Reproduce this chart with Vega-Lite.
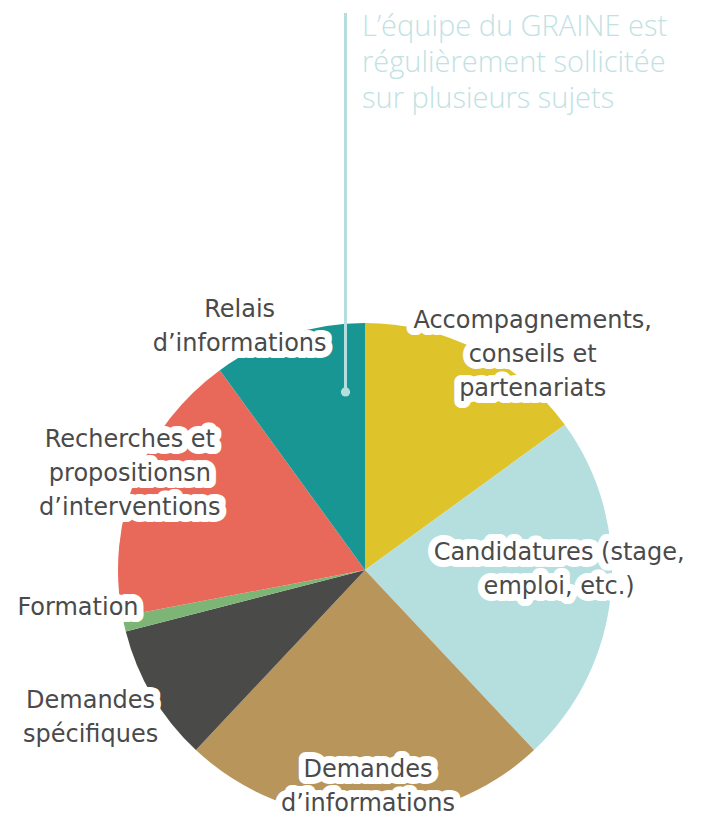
{
  "$schema": "https://vega.github.io/schema/vega-lite/v6.json",
  "width": 496,
  "height": 488,
  "autosize": {"type": "none"},
  "padding": {"left": 117, "top": 326, "right": 93, "bottom": 0},
  "background": "white",
  "config": {"view": {"stroke": null}},
  "data": {
    "values": [
      {"label": "Accompagnements,\nconseils et\npartenariats", "value": 15},
      {"label": "Candidatures (stage,\nemploi, etc.)", "value": 23},
      {"label": "Demandes\nd’informations", "value": 24},
      {"label": "Demandes\nspécifiques", "value": 9},
      {"label": "Formation", "value": 1},
      {"label": "Recherches et\npropositionsn\nd’interventions", "value": 18},
      {"label": "Relais\nd’informations", "value": 10}
    ]
  },
  "layer": [
    {
      "mark": {"type": "arc", "outerRadius": 247},
      "encoding": {
        "theta": {"field": "value", "type": "quantitative", "stack": true},
        "color": {
          "field": "label",
          "type": "nominal",
          "legend": null,
          "scale": {
            "domain": [
              "Accompagnements,\nconseils et\npartenariats",
              "Candidatures (stage,\nemploi, etc.)",
              "Demandes\nd’informations",
              "Demandes\nspécifiques",
              "Formation",
              "Recherches et\npropositionsn\nd’interventions",
              "Relais\nd’informations"
            ],
            "range": ["#DFC32A", "#B5DEDF", "#B8955A", "#4A4A49", "#7CB576", "#E8695A", "#179694"]
          }
        }
      }
    },
    {
      "data": {"values": [{"note": "callout"}]},
      "mark": {"type": "rule", "color": "#B5DEDF", "strokeWidth": 3},
      "encoding": {
        "x": {"datum": -0.0786, "type": "quantitative", "scale": {"domain": [-1, 1]}, "axis": null},
        "y": {"datum": 2.246, "type": "quantitative", "scale": {"domain": [-0.984, 0.984]}, "axis": null},
        "y2": {"datum": 0.718}
      }
    },
    {
      "data": {"values": [{"note": "callout"}]},
      "mark": {"type": "circle", "color": "#B5DEDF", "opacity": 1, "size": 85},
      "encoding": {
        "x": {"datum": -0.0786, "type": "quantitative", "scale": {"domain": [-1, 1]}, "axis": null},
        "y": {"datum": 0.718, "type": "quantitative", "scale": {"domain": [-0.984, 0.984]}, "axis": null}
      }
    },
    {
      "data": {"values": [{"note": "L’équipe du GRAINE est\nrégulièrement sollicitée\nsur plusieurs sujets"}]},
      "mark": {"type": "text", "font": "Open Sans", "fontWeight": 300, "fontSize": 29, "color": "#BFE2E3", "align": "left", "baseline": "alphabetic", "lineBreak": "\n", "lineHeight": 36},
      "encoding": {
        "x": {"datum": -0.012, "type": "quantitative", "scale": {"domain": [-1, 1]}, "axis": null},
        "y": {"datum": 2.153, "type": "quantitative", "scale": {"domain": [-0.984, 0.984]}, "axis": null},
        "text": {"field": "note", "type": "nominal"}
      }
    },
    {
      "mark": {"type": "text", "radius": 268, "dx": 46, "dy": -10, "font": "DejaVu Sans", "fontSize": 24, "color": "white", "stroke": "white", "strokeWidth": 14, "strokeJoin": "round", "align": "center", "baseline": "middle", "lineBreak": "\n", "lineHeight": 34},
      "encoding": {
        "theta": {"field": "value", "type": "quantitative", "stack": true},
        "detail": {"field": "label", "type": "nominal"},
        "text": {"value": "", "condition": {"test": "indexof(datum.label, 'Accomp') == 0", "field": "label", "type": "nominal"}}
      }
    },
    {
      "mark": {"type": "text", "radius": 194, "dx": 1, "dy": -35, "font": "DejaVu Sans", "fontSize": 24, "color": "white", "stroke": "white", "strokeWidth": 14, "strokeJoin": "round", "align": "center", "baseline": "middle", "lineBreak": "\n", "lineHeight": 34},
      "encoding": {
        "theta": {"field": "value", "type": "quantitative", "stack": true},
        "detail": {"field": "label", "type": "nominal"},
        "text": {"value": "", "condition": {"test": "indexof(datum.label, 'Candid') == 0", "field": "label", "type": "nominal"}}
      }
    },
    {
      "mark": {"type": "text", "radius": 215, "dx": 3, "dy": -15, "font": "DejaVu Sans", "fontSize": 24, "color": "white", "stroke": "white", "strokeWidth": 14, "strokeJoin": "round", "align": "center", "baseline": "middle", "lineBreak": "\n", "lineHeight": 34},
      "encoding": {
        "theta": {"field": "value", "type": "quantitative", "stack": true},
        "detail": {"field": "label", "type": "nominal"},
        "text": {"value": "", "condition": {"test": "indexof(datum.label, 'Demandes\\nd') == 0", "field": "label", "type": "nominal"}}
      }
    },
    {
      "mark": {"type": "text", "radius": 313, "dx": -5, "dy": -28, "font": "DejaVu Sans", "fontSize": 24, "color": "white", "stroke": "white", "strokeWidth": 14, "strokeJoin": "round", "align": "center", "baseline": "middle", "lineBreak": "\n", "lineHeight": 34},
      "encoding": {
        "theta": {"field": "value", "type": "quantitative", "stack": true},
        "detail": {"field": "label", "type": "nominal"},
        "text": {"value": "", "condition": {"test": "indexof(datum.label, 'Demandes\\ns') == 0", "field": "label", "type": "nominal"}}
      }
    },
    {
      "mark": {"type": "text", "radius": 289, "dx": -5, "dy": -25, "font": "DejaVu Sans", "fontSize": 24, "color": "white", "stroke": "white", "strokeWidth": 14, "strokeJoin": "round", "align": "center", "baseline": "middle", "lineBreak": "\n", "lineHeight": 34},
      "encoding": {
        "theta": {"field": "value", "type": "quantitative", "stack": true},
        "detail": {"field": "label", "type": "nominal"},
        "text": {"value": "", "condition": {"test": "datum.label == 'Formation'", "field": "label", "type": "nominal"}}
      }
    },
    {
      "mark": {"type": "text", "radius": 254, "dx": 1, "dy": -36, "font": "DejaVu Sans", "fontSize": 24, "color": "white", "stroke": "white", "strokeWidth": 14, "strokeJoin": "round", "align": "center", "baseline": "middle", "lineBreak": "\n", "lineHeight": 34},
      "encoding": {
        "theta": {"field": "value", "type": "quantitative", "stack": true},
        "detail": {"field": "label", "type": "nominal"},
        "text": {"value": "", "condition": {"test": "indexof(datum.label, 'Recherches') == 0", "field": "label", "type": "nominal"}}
      }
    },
    {
      "mark": {"type": "text", "radius": 273, "dx": -41, "dy": 0, "font": "DejaVu Sans", "fontSize": 24, "color": "white", "stroke": "white", "strokeWidth": 14, "strokeJoin": "round", "align": "center", "baseline": "middle", "lineBreak": "\n", "lineHeight": 34},
      "encoding": {
        "theta": {"field": "value", "type": "quantitative", "stack": true},
        "detail": {"field": "label", "type": "nominal"},
        "text": {"value": "", "condition": {"test": "indexof(datum.label, 'Relais') == 0", "field": "label", "type": "nominal"}}
      }
    },
    {
      "mark": {"type": "text", "radius": 268, "dx": 46, "dy": -10, "font": "DejaVu Sans", "fontSize": 24, "color": "#4A4A4A", "align": "center", "baseline": "middle", "lineBreak": "\n", "lineHeight": 34},
      "encoding": {
        "theta": {"field": "value", "type": "quantitative", "stack": true},
        "detail": {"field": "label", "type": "nominal"},
        "text": {"value": "", "condition": {"test": "indexof(datum.label, 'Accomp') == 0", "field": "label", "type": "nominal"}}
      }
    },
    {
      "mark": {"type": "text", "radius": 194, "dx": 1, "dy": -35, "font": "DejaVu Sans", "fontSize": 24, "color": "#4A4A4A", "align": "center", "baseline": "middle", "lineBreak": "\n", "lineHeight": 34},
      "encoding": {
        "theta": {"field": "value", "type": "quantitative", "stack": true},
        "detail": {"field": "label", "type": "nominal"},
        "text": {"value": "", "condition": {"test": "indexof(datum.label, 'Candid') == 0", "field": "label", "type": "nominal"}}
      }
    },
    {
      "mark": {"type": "text", "radius": 215, "dx": 3, "dy": -15, "font": "DejaVu Sans", "fontSize": 24, "color": "#4A4A4A", "align": "center", "baseline": "middle", "lineBreak": "\n", "lineHeight": 34},
      "encoding": {
        "theta": {"field": "value", "type": "quantitative", "stack": true},
        "detail": {"field": "label", "type": "nominal"},
        "text": {"value": "", "condition": {"test": "indexof(datum.label, 'Demandes\\nd') == 0", "field": "label", "type": "nominal"}}
      }
    },
    {
      "mark": {"type": "text", "radius": 313, "dx": -5, "dy": -28, "font": "DejaVu Sans", "fontSize": 24, "color": "#4A4A4A", "align": "center", "baseline": "middle", "lineBreak": "\n", "lineHeight": 34},
      "encoding": {
        "theta": {"field": "value", "type": "quantitative", "stack": true},
        "detail": {"field": "label", "type": "nominal"},
        "text": {"value": "", "condition": {"test": "indexof(datum.label, 'Demandes\\ns') == 0", "field": "label", "type": "nominal"}}
      }
    },
    {
      "mark": {"type": "text", "radius": 289, "dx": -5, "dy": -25, "font": "DejaVu Sans", "fontSize": 24, "color": "#4A4A4A", "align": "center", "baseline": "middle", "lineBreak": "\n", "lineHeight": 34},
      "encoding": {
        "theta": {"field": "value", "type": "quantitative", "stack": true},
        "detail": {"field": "label", "type": "nominal"},
        "text": {"value": "", "condition": {"test": "datum.label == 'Formation'", "field": "label", "type": "nominal"}}
      }
    },
    {
      "mark": {"type": "text", "radius": 254, "dx": 1, "dy": -36, "font": "DejaVu Sans", "fontSize": 24, "color": "#4A4A4A", "align": "center", "baseline": "middle", "lineBreak": "\n", "lineHeight": 34},
      "encoding": {
        "theta": {"field": "value", "type": "quantitative", "stack": true},
        "detail": {"field": "label", "type": "nominal"},
        "text": {"value": "", "condition": {"test": "indexof(datum.label, 'Recherches') == 0", "field": "label", "type": "nominal"}}
      }
    },
    {
      "mark": {"type": "text", "radius": 273, "dx": -41, "dy": 0, "font": "DejaVu Sans", "fontSize": 24, "color": "#4A4A4A", "align": "center", "baseline": "middle", "lineBreak": "\n", "lineHeight": 34},
      "encoding": {
        "theta": {"field": "value", "type": "quantitative", "stack": true},
        "detail": {"field": "label", "type": "nominal"},
        "text": {"value": "", "condition": {"test": "indexof(datum.label, 'Relais') == 0", "field": "label", "type": "nominal"}}
      }
    }
  ]
}
